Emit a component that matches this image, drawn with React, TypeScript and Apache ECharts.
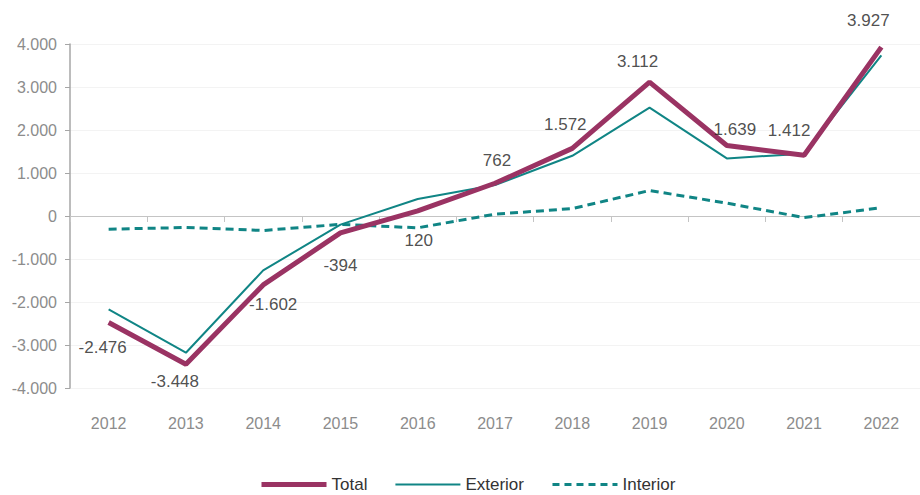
import React, { useEffect, useRef } from "react";
import * as echarts from "echarts";

const years = ["2012", "2013", "2014", "2015", "2016", "2017", "2018", "2019", "2020", "2021", "2022"];
const total = [-2476, -3448, -1602, -394, 120, 762, 1572, 3112, 1639, 1412, 3927];
const exterior = [-2170, -3180, -1265, -200, 395, 720, 1400, 2520, 1340, 1450, 3735];
const interior = [-306, -268, -337, -194, -275, 42, 172, 592, 299, -38, 192];
const labelPos = ["bottom", "bottom", "bottom", "bottom", "bottom", "top", "top", "top", "top", "top", "top"];
const labelOffsetX = [-6, -11, 10, 0, 1, 2, -7, -12, 8, -15, -13];
const labelOffsetY = [2, -6, -3, 10, 7, -2, -3, 0, 5, -4, -6];

const fmt = (v: number) => {
  const s = Math.abs(v).toString().replace(/\B(?=(\d{3})+(?!\d))/g, ".");
  return (v < 0 ? "-" : "") + s;
};

const FONT = "'Liberation Sans', Arial, sans-serif";
const MAROON = "#9a3363";
const TEAL = "#108585";

export default function App() {
  const ref = useRef<HTMLDivElement>(null);
  useEffect(() => {
    if (!ref.current) return;
    const chart = echarts.init(ref.current, null, { renderer: "svg" });
    chart.setOption({
      animation: false,
      textStyle: { fontFamily: FONT },
      grid: { left: 70, right: -2, top: 44, bottom: 107 },
      legend: {
        top: 473,
        left: 256,
        padding: [3, 3],
        itemWidth: 65,
        itemHeight: 14,
        itemGap: 27,
        textStyle: { fontSize: 17, color: "#333", fontFamily: FONT },
        data: [
          { name: "Total", lineStyle: { width: 5, color: MAROON }, itemStyle: { opacity: 0 } },
          { name: "Exterior", lineStyle: { width: 2, color: TEAL }, itemStyle: { opacity: 0 } },
          { name: "Interior", lineStyle: { width: 3, color: TEAL, type: [7, 5] }, itemStyle: { opacity: 0 } },
        ],
      },
      xAxis: [
        {
          type: "category",
          data: years,
          position: "bottom",
          axisLine: { show: false, onZero: false },
          axisTick: { show: false },
          axisLabel: { color: "#8c8c8c", fontSize: 16, margin: 27, fontFamily: FONT },
        },
        {
          type: "category",
          data: years,
          position: "bottom",
          axisLine: { show: true, onZero: true, lineStyle: { color: "#c4c4c4", width: 1 } },
          axisTick: { show: true, length: 6, lineStyle: { color: "#c4c4c4" } },
          axisLabel: { show: false },
        },
      ],
      yAxis: {
        type: "value",
        min: -4000,
        max: 4000,
        interval: 1000,
        axisLine: { show: true, lineStyle: { color: "#a6a6a6", width: 1.5 } },
        axisTick: { show: true, length: 5, lineStyle: { color: "#a6a6a6" } },
        splitLine: { show: true, lineStyle: { color: "#f3f3f3" } },
        axisLabel: { color: "#8c8c8c", fontSize: 16, margin: 13, formatter: (v: number) => fmt(v), fontFamily: FONT },
      },
      series: [
        {
          name: "Interior",
          type: "line",
          data: interior,
          symbol: "none",
          z: 2,
          lineStyle: { color: TEAL, width: 3, type: [8, 5] },
          itemStyle: { color: TEAL },
        },
        {
          name: "Exterior",
          type: "line",
          data: exterior,
          symbol: "none",
          z: 3,
          lineStyle: { color: TEAL, width: 2 },
          itemStyle: { color: TEAL },
        },
        {
          name: "Total",
          type: "line",
          symbol: "none",
          z: 4,
          data: total,
          lineStyle: { color: MAROON, width: 5 },
          itemStyle: { color: MAROON },
        },
        {
          name: "TotalLabels",
          type: "scatter",
          symbolSize: 1,
          z: 5,
          silent: true,
          itemStyle: { color: "rgba(0,0,0,0)" },
          data: total.map((v, i) => ({
            value: v,
            label: {
              show: true,
              position: labelPos[i],
              distance: labelPos[i] === "top" ? 12 : 14,
              offset: [labelOffsetX[i], labelOffsetY[i]],
              formatter: fmt(v),
              fontSize: 17,
              color: "#222",
              fontFamily: FONT,
            },
          })),
        },
      ],
    });
    return () => chart.dispose();
  }, []);
  return <div ref={ref} style={{ width: 920, height: 495, position: "absolute", left: 0, top: 0 }} />;
}
